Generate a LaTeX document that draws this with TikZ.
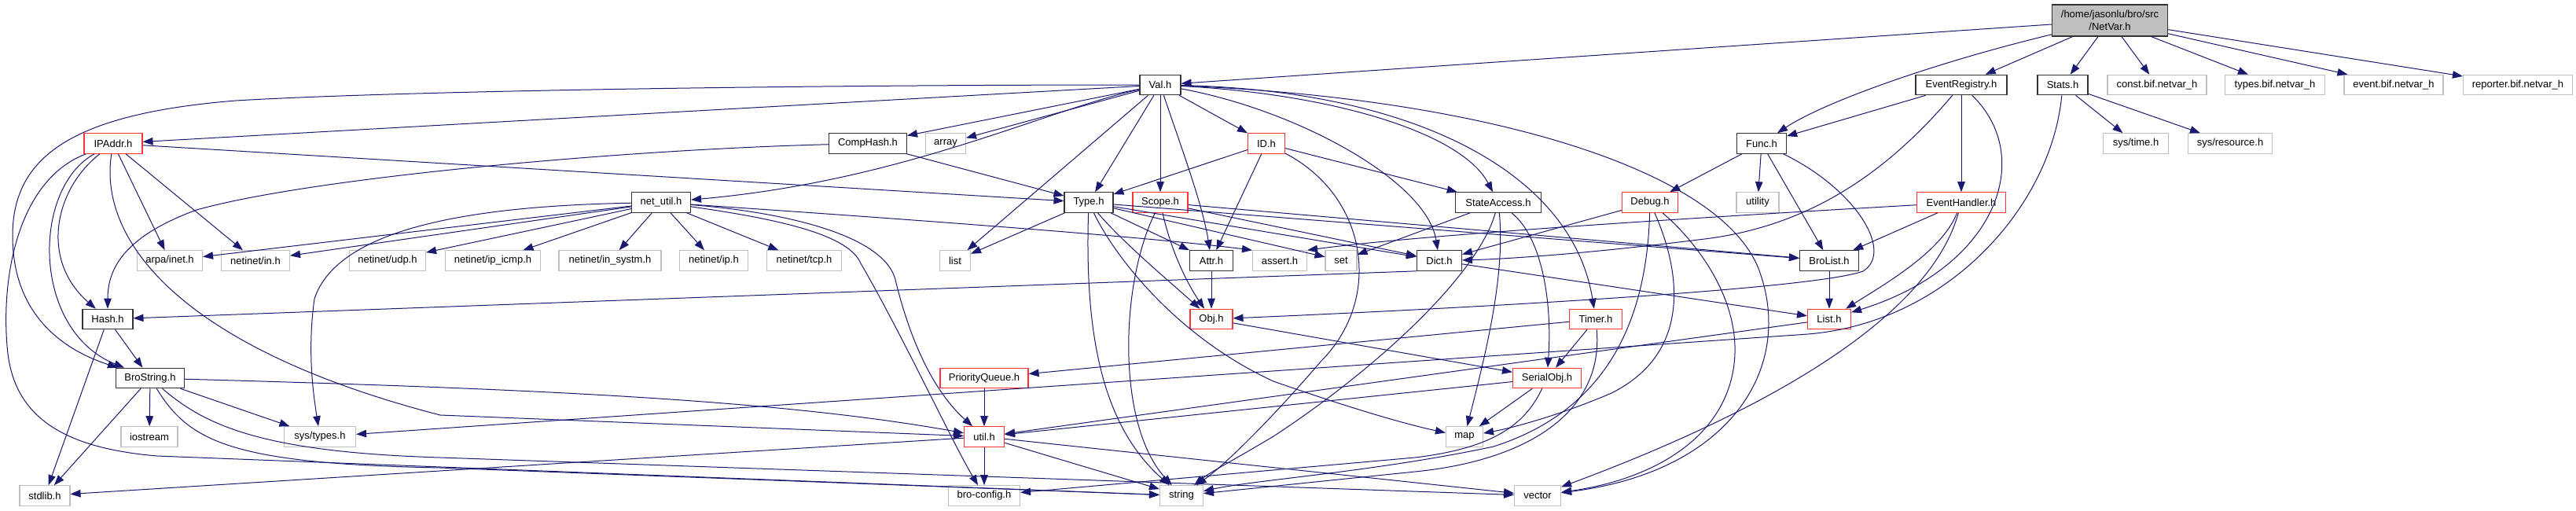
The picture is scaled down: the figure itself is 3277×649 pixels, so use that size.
\documentclass[tikz,border=0pt]{standalone}
\usepackage{fontspec}
\setmainfont{Liberation Sans}
\usetikzlibrary{arrows.meta}
\definecolor{edgec}{HTML}{191970}
\definecolor{nred}{HTML}{FF3333}
\definecolor{ngray}{HTML}{BFBFBF}
\definecolor{nblack}{HTML}{333333}
\tikzset{
  fbox/.style={rectangle, draw=nblack, line width=1.1pt, fill=white, minimum height=25.5pt, inner sep=0pt, font=\fontsize{13}{15.5}\selectfont, text=black},
  fred/.style={fbox, draw=nred},
  fgray/.style={fbox, draw=ngray},
  dep/.style={draw=edgec, line width=1pt, -{Triangle[length=13pt,width=9.5pt]}},
}
\begin{document}
\begin{tikzpicture}[x=1pt,y=-1pt]
\fill[white] (0,0) rectangle (3277,649);
\useasboundingbox (0,0) rectangle (3277,649);
% row A
\node[fbox, fill=ngray, minimum width=147pt, minimum height=40pt, align=center] (netvar) at (2684,26) {/home/jasonlu/bro/src\\/NetVar.h};
% row B
\node[fbox, minimum width=52pt] (val) at (1476,108) {Val.h};
\node[fbox, minimum width=116pt] (evreg) at (2495,108) {EventRegistry.h};
\node[fbox, minimum width=64pt] (stats) at (2624,108) {Stats.h};
\node[fgray, minimum width=126pt] (constb) at (2744,108) {const.bif.netvar\_h};
\node[fgray, minimum width=127pt] (typesb) at (2894,108) {types.bif.netvar\_h};
\node[fgray, minimum width=126pt] (eventb) at (3045,108) {event.bif.netvar\_h};
\node[fgray, minimum width=139pt] (reporterb) at (3203,108) {reporter.bif.netvar\_h};
% row C
\node[fred, minimum width=74pt] (ipaddr) at (144,182.5) {IPAddr.h};
\node[fbox, minimum width=99pt] (comphash) at (1104,182.5) {CompHash.h};
\node[fgray, minimum width=51pt] (array) at (1203,182.5) {array};
\node[fred, minimum width=47pt] (id) at (1611,182.5) {ID.h};
\node[fbox, minimum width=63pt] (func) at (2241,182.5) {Func.h};
\node[fgray, minimum width=83pt] (systime) at (2717,182.5) {sys/time.h};
\node[fgray, minimum width=107pt] (sysres) at (2837,182.5) {sys/resource.h};
% row D
\node[fbox, minimum width=75pt] (netutil) at (841,257.5) {net\_util.h};
\node[fbox, minimum width=62pt] (type) at (1385,257.5) {Type.h};
\node[fred, minimum width=70pt] (scope) at (1476,257.5) {Scope.h};
\node[fbox, minimum width=109pt] (stateacc) at (1906,257.5) {StateAccess.h};
\node[fred, minimum width=71pt] (debug) at (2099,257.5) {Debug.h};
\node[fgray, minimum width=54pt] (utility) at (2236,257.5) {utility};
\node[fred, minimum width=113pt] (evhand) at (2495,257.5) {EventHandler.h};
% row E
\node[fgray, minimum width=83pt] (arpainet) at (216,331.5) {arpa/inet.h};
\node[fgray, minimum width=87pt] (netin) at (325,331.5) {netinet/in.h};
\node[fgray, minimum width=97pt] (udp) at (493,331.5) {netinet/udp.h};
\node[fgray, minimum width=121pt] (icmp) at (627,331.5) {netinet/ip\_icmp.h};
\node[fgray, minimum width=130pt] (insystm) at (776,331.5) {netinet/in\_systm.h};
\node[fgray, minimum width=87pt] (iph) at (908,331.5) {netinet/ip.h};
\node[fgray, minimum width=95pt] (tcp) at (1023,331.5) {netinet/tcp.h};
\node[fgray, minimum width=39pt] (list) at (1215,331.5) {list};
\node[fbox, minimum width=55pt] (attr) at (1541,331.5) {Attr.h};
\node[fgray, minimum width=69pt] (assert) at (1628,331.5) {assert.h};
\node[fgray, minimum width=40pt] (set) at (1706,331.5) {set};
\node[fbox, minimum width=57pt] (dict) at (1831,331.5) {Dict.h};
\node[fbox, minimum width=75pt] (brolist) at (2327,331.5) {BroList.h};
% row F
\node[fbox, minimum width=64pt] (hash) at (137,406) {Hash.h};
\node[fred, minimum width=54pt] (obj) at (1541,406) {Obj.h};
\node[fred, minimum width=67pt] (timer) at (2030,406) {Timer.h};
\node[fred, minimum width=55pt] (listh) at (2327,406) {List.h};
% row G
\node[fbox, minimum width=87pt] (brostring) at (191,481) {BroString.h};
\node[fred, minimum width=112pt] (pq) at (1252,481) {PriorityQueue.h};
\node[fred, minimum width=87pt] (serialobj) at (1968,481) {SerialObj.h};
% row H
\node[fgray, minimum width=72pt] (iostream) at (190,555.5) {iostream};
\node[fgray, minimum width=91pt] (systypes) at (407,555.5) {sys/types.h};
\node[fred, minimum width=51pt] (util) at (1252,555.5) {util.h};
\node[fgray, minimum width=47pt] (map) at (1863,555.5) {map};
% row I
\node[fgray, minimum width=64pt] (stdlib) at (57,630.5) {stdlib.h};
\node[fgray, minimum width=91pt] (broconfig) at (1252,630.5) {bro-config.h};
\node[fgray, minimum width=55pt] (string) at (1503,630.5) {string};
\node[fgray, minimum width=59pt] (vector) at (1956,630.5) {vector};

% NetVar
\draw[dep] (netvar) -- (val);
\draw[dep] (netvar) .. controls (2460,80) and (2320,130) .. (func);
\draw[dep] (netvar) -- (evreg);
\draw[dep] (netvar) -- (stats);
\draw[dep] (netvar) -- (constb);
\draw[dep] (netvar) -- (typesb);
\draw[dep] (netvar) -- (eventb);
\draw[dep] (netvar) -- (reporterb);
% Val
\draw[dep] (val) -- (ipaddr);
\draw[dep] (val) .. controls (1000,108) and (500,116) .. (300,128) .. controls (90,145) and (16,200) .. (16,300) .. controls (16,400) and (80,445) .. (brostring);
\draw[dep] (val) -- (comphash);
\draw[dep] (val) -- (array);
\draw[dep] (val) .. controls (1330,140) and (1150,230) .. (netutil);
\draw[dep] (val) -- (list);
\draw[dep] (val) -- (type);
\draw[dep] (val) -- (scope);
\draw[dep] (val) .. controls (1500,180) and (1530,260) .. (attr);
\draw[dep] (val) -- (id);
\draw[dep] (val) .. controls (1700,120) and (1860,170) .. (stateacc);
\draw[dep] (val) .. controls (1650,140) and (1815,230) .. (dict);
\draw[dep] (val) .. controls (1800,115) and (2000,220) .. (timer);
\draw[dep] (val) .. controls (1900,125) and (2200,220) .. (2240,350) .. controls (2280,470) and (2200,600) .. (vector);
% IPAddr
\draw[dep] (ipaddr) -- (arpainet);
\draw[dep] (ipaddr) -- (netin);
\draw[dep] (ipaddr) -- (type);
\draw[dep] (ipaddr) .. controls (70,240) and (50,330) .. (hash);
\draw[dep] (ipaddr) .. controls (40,240) and (40,420) .. (brostring);
\draw[dep] (ipaddr) .. controls (20,230) and (0,360) .. (10,450) .. controls (20,530) and (80,570) .. (200,580) -- (string);
\draw[dep] (ipaddr) .. controls (125,300) and (220,440) .. (560,528) -- (util);
% CompHash
\draw[dep] (comphash) .. controls (800,190) and (400,225) .. (250,267) .. controls (160,300) and (137,340) .. (hash);
\draw[dep] (comphash) -- (type);
% ID
\draw[dep] (id) -- (type);
\draw[dep] (id) -- (attr);
\draw[dep] (id) -- (stateacc);
\draw[dep] (id) .. controls (1740,250) and (1760,380) .. (1680,460) .. controls (1620,530) and (1560,590) .. (string);
% Func
\draw[dep] (func) -- (debug);
\draw[dep] (func) -- (utility);
\draw[dep] (func) -- (brolist);
\draw[dep] (func) .. controls (2360,240) and (2410,320) .. (2370,345) .. controls (2300,370) and (1800,395) .. (obj);
% EventRegistry
\draw[dep] (evreg) -- (func);
\draw[dep] (evreg) -- (evhand);
\draw[dep] (evreg) .. controls (2400,220) and (2300,290) .. (2160,305) .. controls (2000,325) and (1900,330) .. (dict);
\draw[dep] (evreg) .. controls (2590,200) and (2540,340) .. (listh);
% Stats
\draw[dep] (stats) -- (systime);
\draw[dep] (stats) -- (sysres);
\draw[dep] (stats) .. controls (2610,260) and (2480,410) .. (2300,425) -- (systypes);
% net_util
\draw[dep] (netutil) .. controls (600,262) and (430,290) .. (400,380) .. controls (390,450) and (400,510) .. (systypes);
\draw[dep] (netutil) -- (arpainet);
\draw[dep] (netutil) -- (netin);
\draw[dep] (netutil) -- (udp);
\draw[dep] (netutil) -- (icmp);
\draw[dep] (netutil) -- (insystm);
\draw[dep] (netutil) -- (iph);
\draw[dep] (netutil) -- (tcp);
\draw[dep] (netutil) .. controls (1100,275) and (1450,300) .. (assert.north west);
\draw[dep] (netutil) .. controls (1000,270) and (1130,300) .. (1140,360) .. controls (1160,440) and (1190,500) .. (util);
\draw[dep] (netutil) .. controls (1000,280) and (1080,300) .. (1095,335) .. controls (1150,430) and (1210,560) .. (broconfig);
% Type
\draw[dep] (type) -- (list);
\draw[dep] (type) .. controls (1380,420) and (1400,540) .. (string);
\draw[dep] (type) .. controls (1420,330) and (1500,430) .. (1620,485) .. controls (1720,520) and (1790,540) .. (map);
\draw[dep] (type) .. controls (1430,310) and (1490,360) .. (obj);
\draw[dep] (type) -- (attr);
\draw[dep] (type) -- (set);
\draw[dep] (type) -- (dict);
\draw[dep] (type) -- (brolist);
% Scope
\draw[dep] (scope) .. controls (1425,360) and (1420,540) .. (string);
\draw[dep] (scope) .. controls (1490,320) and (1510,360) .. (obj);
\draw[dep] (scope) -- (dict);
\draw[dep] (scope) -- (brolist);
% StateAccess
\draw[dep] (stateacc) -- (set);
\draw[dep] (stateacc) .. controls (1915,350) and (1890,450) .. (map);
\draw[dep] (stateacc) .. controls (1880,350) and (1750,470) .. (1620,555) .. controls (1570,585) and (1540,600) .. (string);
\draw[dep] (stateacc) .. controls (1960,300) and (1975,380) .. (serialobj);
% Debug
\draw[dep] (debug) -- (dict);
\draw[dep] (debug) .. controls (2095,400) and (2050,520) .. (1900,568) .. controls (1750,600) and (1600,610) .. (string);
\draw[dep] (debug) .. controls (2140,350) and (2150,450) .. (2050,500) .. controls (1980,530) and (1920,545) .. (map);
\draw[dep] (debug) .. controls (2150,300) and (2220,380) .. (2205,470) .. controls (2190,560) and (2100,610) .. (vector);
% EventHandler
\draw[dep] (evhand) -- (brolist);
\draw[dep] (evhand) .. controls (2470,320) and (2400,360) .. (listh);
\draw[dep] (evhand) .. controls (2100,280) and (1800,300) .. (assert.north east);
\draw[dep] (evhand) .. controls (2450,420) and (2200,540) .. (vector);
% others
\draw[dep] (attr) -- (obj);
\draw[dep] (obj) -- (serialobj);
\draw[dep] (timer) -- (pq);
\draw[dep] (timer) -- (serialobj);
\draw[dep] (timer) .. controls (2040,520) and (1950,585) .. (1800,600) -- (string);
\draw[dep] (serialobj) -- (util);
\draw[dep] (serialobj) -- (map);
\draw[dep] (serialobj) .. controls (1940,540) and (1900,570) .. (1800,582) -- (broconfig);
\draw[dep] (dict.south west) -- (hash);
\draw[dep] (dict) -- (listh);
\draw[dep] (brolist) -- (listh);
\draw[dep] (listh) -- (util);
\draw[dep] (hash) -- (brostring);
\draw[dep] (hash) -- (stdlib);
\draw[dep] (brostring) -- (stdlib);
\draw[dep] (brostring) -- (iostream);
\draw[dep] (brostring) -- (systypes);
\draw[dep] (brostring) .. controls (700,495) and (1000,510) .. (util);
\draw[dep] (brostring) .. controls (240,560) and (290,590) .. (560,595) -- (string);
\draw[dep] (brostring) .. controls (260,540) and (330,575) .. (560,582) -- (vector);
\draw[dep] (pq) -- (util);
\draw[dep] (util) -- (stdlib);
\draw[dep] (util) -- (broconfig);
\draw[dep] (util) -- (string);
\draw[dep] (util) -- (vector);
\end{tikzpicture}
\end{document}
